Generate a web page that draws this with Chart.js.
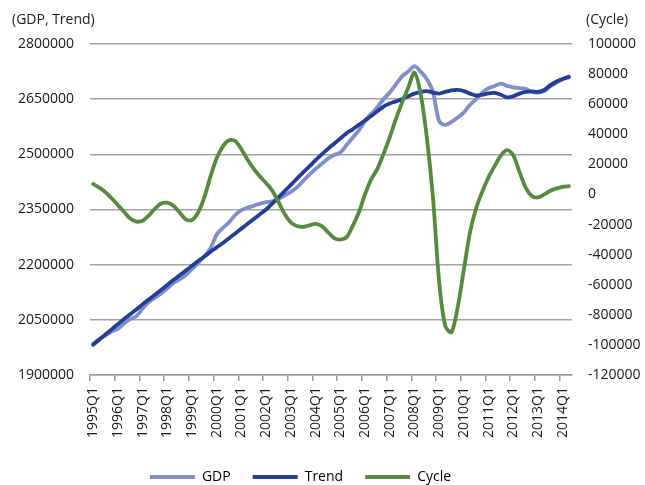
<!DOCTYPE html>
<html>
<head>
<meta charset="utf-8">
<script src="https://cdn.jsdelivr.net/npm/chart.js@4.4.1/dist/chart.umd.min.js"></script>
<style>
  html, body { margin: 0; padding: 0; background: #fff; }
</style>
</head>
<body>
<canvas id="myChart" width="645" height="485"></canvas>
<script>
// quarterly categories, 1995Q1 .. 2014Q2
const quarters = [];
for (let y = 1995; y <= 2014; y++) {
  for (let q = 1; q <= 4; q++) {
    if (y === 2014 && q > 2) break;
    quarters.push(y + 'Q' + q);
  }
}

const gdp = [
  1985000, 1998000, 2008000, 2018000, 2025000, 2040000, 2052000, 2060000,
  2080000, 2098000, 2110000, 2122000, 2135000, 2150000, 2160000, 2172000,
  2188000, 2205000, 2222000, 2245000, 2282000, 2300000, 2315000, 2335000,
  2348000, 2355000, 2360000, 2366000, 2370000, 2372000, 2378000, 2388000,
  2398000, 2410000, 2428000, 2445000, 2460000, 2474000, 2488000, 2498000,
  2505000, 2525000, 2545000, 2565000, 2590000, 2610000, 2628000, 2650000,
  2668000, 2690000, 2712000, 2725000, 2740000, 2725000, 2705000, 2670000,
  2590000, 2580000, 2588000, 2600000, 2614000, 2635000, 2650000, 2668000,
  2680000, 2686000, 2692000, 2686000, 2682000, 2680000, 2678000, 2670000,
  2668000, 2672000, 2685000, 2695000, 2705000, 2712000
];

const trend = [
  1982000, 1996000, 2010000, 2024000, 2038000, 2052000, 2065000, 2078000,
  2092000, 2105000, 2118000, 2131000, 2145000, 2158000, 2171000, 2184000,
  2197000, 2210000, 2222000, 2235000, 2247000, 2259000, 2272000, 2285000,
  2298000, 2311000, 2324000, 2337000, 2350000, 2366000, 2383000, 2400000,
  2417000, 2434000, 2451000, 2467000, 2484000, 2500000, 2515000, 2529000,
  2543000, 2557000, 2568000, 2580000, 2592000, 2604000, 2617000, 2630000,
  2638000, 2644000, 2650000, 2658000, 2665000, 2670000, 2672000, 2668000,
  2665000, 2670000, 2674000, 2675000, 2672000, 2665000, 2660000, 2662000,
  2666000, 2667000, 2662000, 2655000, 2658000, 2665000, 2670000, 2671000,
  2670000, 2675000, 2688000, 2698000, 2705000, 2710000
];

const cycle = [
  7000, 4500, 1500, -2500, -7000, -11500, -16000, -18000,
  -17500, -14000, -9500, -6000, -5500, -7500, -12000, -16500,
  -17000, -12000, -2000, 12000, 24000, 32000, 36000, 35500,
  30000, 23000, 17000, 12000, 7500, 2500, -5000, -13000,
  -18500, -21000, -21500, -20500, -19500, -21000, -25000, -29000,
  -30000, -28500, -21000, -12000, 0, 10000, 17000, 27000,
  38000, 50000, 61000, 71000, 81000, 67000, 38000, -2000,
  -58000, -87500, -91500, -75000, -50000, -25000, -9000, 2000,
  11500, 19000, 26000, 29500, 26000, 15000, 4500, -1000,
  -2000, 0, 2500, 4000, 5000, 5500
];

const leftTicks = { min: 1900000, max: 2800000, step: 150000 };
const rightTicks = { min: -120000, max: 100000, step: 20000 };

const colGdp = '#7f8fcc';
const colTrend = '#223f98';
const colCycle = '#558b3d';
const gridCol = '#a3a3a3';

Chart.defaults.font.family = '"Open Sans", sans-serif';
Chart.defaults.font.size = 14;
Chart.defaults.color = '#1a1a1a';

// unit captions above the two value axes
const unitLabels = {
  id: 'unitLabels',
  afterDraw(chart) {
    const c = chart.ctx;
    c.save();
    c.font = '14px "Open Sans", sans-serif';
    c.fillStyle = '#1a1a1a';
    c.textBaseline = 'middle';
    c.textAlign = 'left';
    c.fillText('(GDP, Trend)', 12, 20);
    c.fillText('(Cycle)', 586, 20);
    c.restore();
  }
};

// nudge the legend row down and a bit left, like the original
const legendNudge = {
  id: 'legendNudge',
  afterLayout(chart) {
    const lg = chart.legend;
    lg.top += 9;
    lg.bottom += 9;
    lg.left -= 22;
    lg.right -= 22;
  }
};

function lineSet(label, data, color, axis, order) {
  return {
    label: label,
    data: data,
    yAxisID: axis,
    borderColor: color,
    backgroundColor: color,
    borderWidth: 3.8,
    pointRadius: 0,
    tension: 0.3,
    borderCapStyle: 'round',
    borderJoinStyle: 'round',
    order: order
  };
}

const ctx = document.getElementById('myChart').getContext('2d');
const myChart = new Chart(ctx, {
  type: 'line',
  data: {
    labels: quarters,
    datasets: [
      lineSet('GDP', gdp, colGdp, 'y', 3),
      lineSet('Trend', trend, colTrend, 'y', 2),
      lineSet('Cycle', cycle, colCycle, 'y1', 1)
    ]
  },
  options: {
    responsive: false,
    animation: false,
    devicePixelRatio: 1,
    layout: { padding: { top: 44, right: 0, bottom: 0, left: 0 } },
    plugins: {
      tooltip: { enabled: false },
      legend: {
        position: 'bottom',
        labels: {
          boxWidth: 45,
          boxHeight: 4,
          padding: 22,
          sort: (a, b) => a.datasetIndex - b.datasetIndex,
          generateLabels(chart) {
            return chart.data.datasets.map((ds, i) => ({
              text: ds.label,
              fillStyle: ds.borderColor,
              strokeStyle: ds.borderColor,
              lineWidth: 0,
              datasetIndex: i,
              hidden: false
            }));
          }
        }
      }
    },
    scales: {
      x: {
        type: 'category',
        offset: true,
        grid: {
          offset: true,
          drawOnChartArea: false,
          tickLength: 6,
          lineWidth: 1.5,
          tickColor: (c) => (c.index % 4 === 0 ? '#999999' : 'rgba(0,0,0,0)')
        },
        border: { display: true, color: '#999999', width: 1.5 },
        ticks: {
          autoSkip: false,
          maxRotation: 90,
          minRotation: 90,
          padding: 6,
          callback: (v, i) => (i % 4 === 0 ? quarters[i] : '')
        },
        afterFit: (s) => { s.height = 64; }
      },
      y: {
        position: 'left',
        min: leftTicks.min,
        max: leftTicks.max,
        ticks: {
          stepSize: leftTicks.step,
          padding: 16,
          callback: (v) => String(v)
        },
        grid: { color: gridCol, lineWidth: 1.5, drawTicks: false },
        border: { display: false },
        afterFit: (s) => { s.width = 90; }
      },
      y1: {
        position: 'right',
        min: rightTicks.min,
        max: rightTicks.max,
        ticks: {
          stepSize: rightTicks.step,
          padding: 16,
          callback: (v) => String(v)
        },
        grid: { drawOnChartArea: false, drawTicks: false },
        border: { display: false },
        afterFit: (s) => { s.width = 73; }
      }
    }
  },
  plugins: [unitLabels, legendNudge]
});
</script>
</body>
</html>
